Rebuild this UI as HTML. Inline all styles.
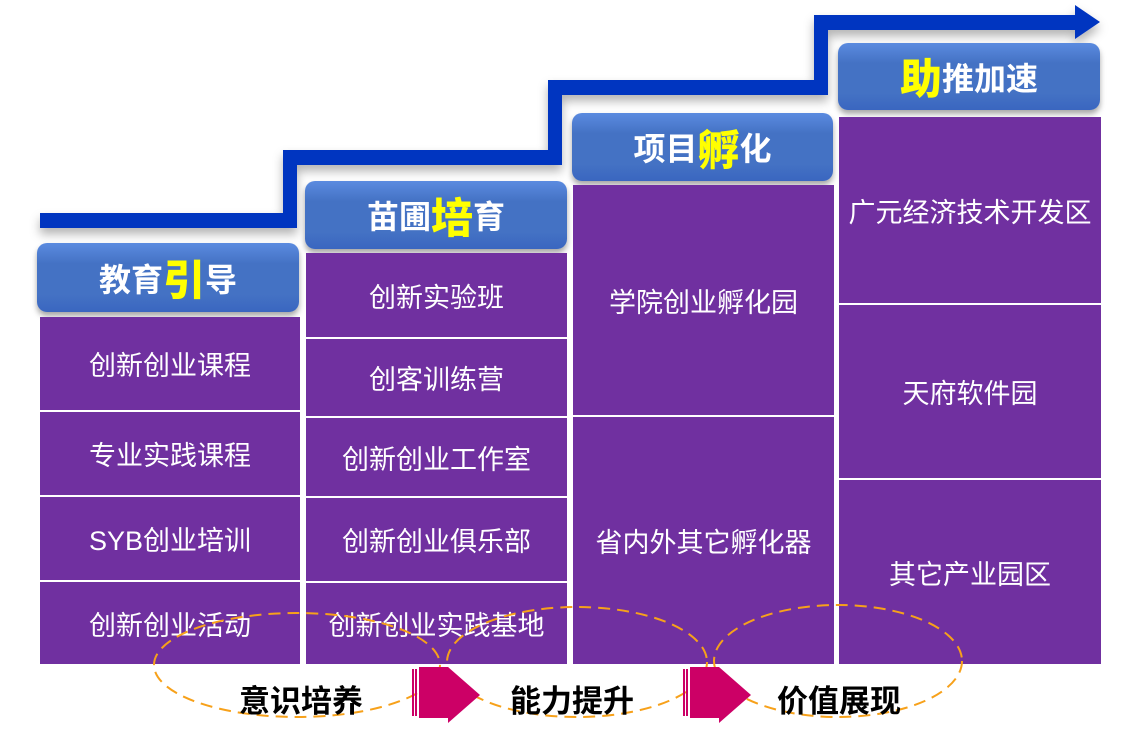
<!DOCTYPE html>
<html><head><meta charset="utf-8"><style>
body{margin:0;width:1139px;height:734px;background:#fff;position:relative;overflow:hidden;font-family:"Liberation Sans","Noto Sans CJK SC",sans-serif}
.h{position:absolute;border-radius:10px;background:linear-gradient(#5b8be0,#4472c4 30%,#4472c4 75%,#3a66c0);box-shadow:0 4px 6px rgba(0,0,0,.35);color:#fff;font-weight:bold;font-size:32px;text-align:center;display:flex;align-items:center;justify-content:center}
.h b{color:#ffff00;font-size:42px}
.c{position:absolute;background:#7030a0;color:#fff;font-size:27px;display:flex;align-items:center;justify-content:center}
.t{position:absolute;font-size:31px;font-weight:bold;color:#000}
</style></head><body>
<svg width="1139" height="734" style="position:absolute;left:0;top:0">
<defs><filter id="s"><feDropShadow dx="0" dy="6" stdDeviation="5" flood-color="#000" flood-opacity=".3"/></filter></defs>
<path d="M40 213H283V150H548V80H814V15H1075V5L1100 22L1075 39V30H828V95H562V165H297V228H40Z" fill="#0034c0" filter="url(#s)"/>
</svg>
<div class="h" style="left:37px;top:243px;width:262px;height:69px">教育<b>引</b>导</div>
<div class="h" style="left:305px;top:181px;width:262px;height:68px">苗圃<b>培</b>育</div>
<div class="h" style="left:572px;top:113px;width:261px;height:68px">项目<b>孵</b>化</div>
<div class="h" style="left:838px;top:43px;width:262px;height:67px"><b>助</b>推加速</div>
<div class="c" style="left:40px;top:317px;width:260px;height:93px">创新创业课程</div>
<div class="c" style="left:40px;top:412px;width:260px;height:83px">专业实践课程</div>
<div class="c" style="left:40px;top:497px;width:260px;height:83px">SYB创业培训</div>
<div class="c" style="left:40px;top:582px;width:260px;height:82px">创新创业活动</div>
<div class="c" style="left:306px;top:253px;width:261px;height:84px">创新实验班</div>
<div class="c" style="left:306px;top:339px;width:261px;height:77px">创客训练营</div>
<div class="c" style="left:306px;top:418px;width:261px;height:78px">创新创业工作室</div>
<div class="c" style="left:306px;top:498px;width:261px;height:83px">创新创业俱乐部</div>
<div class="c" style="left:306px;top:583px;width:261px;height:81px">创新创业实践基地</div>
<div class="c" style="left:573px;top:185px;width:261px;height:230px">学院创业孵化园</div>
<div class="c" style="left:573px;top:417px;width:261px;height:247px">省内外其它孵化器</div>
<div class="c" style="left:839px;top:117px;width:262px;height:186px">广元经济技术开发区</div>
<div class="c" style="left:839px;top:305px;width:262px;height:173px">天府软件园</div>
<div class="c" style="left:839px;top:480px;width:262px;height:184px">其它产业园区</div>
<svg width="1139" height="734" style="position:absolute;left:0;top:0">
<g fill="none" stroke="#f7a11a" stroke-width="2" stroke-dasharray="12 7">
<ellipse cx="297" cy="665" rx="143" ry="52"/>
<ellipse cx="577" cy="662" rx="130" ry="55"/>
<ellipse cx="838" cy="661" rx="124" ry="56"/>
</g>
<g fill="#cc0066">
<path d="M419 667H448V667L480 695L448 723V718H419Z"/><rect x="412" y="669" width="2" height="47"/><rect x="415" y="669" width="2" height="47"/>
<path d="M690 667H719L751 695L719 723V718H690Z"/><rect x="683" y="669" width="2" height="47"/><rect x="686" y="669" width="2" height="47"/>
</g>
</svg>
<div class="t" style="left:239px;top:676px">意识培养</div>
<div class="t" style="left:510px;top:676px">能力提升</div>
<div class="t" style="left:777px;top:676px">价值展现</div>
</body></html>
